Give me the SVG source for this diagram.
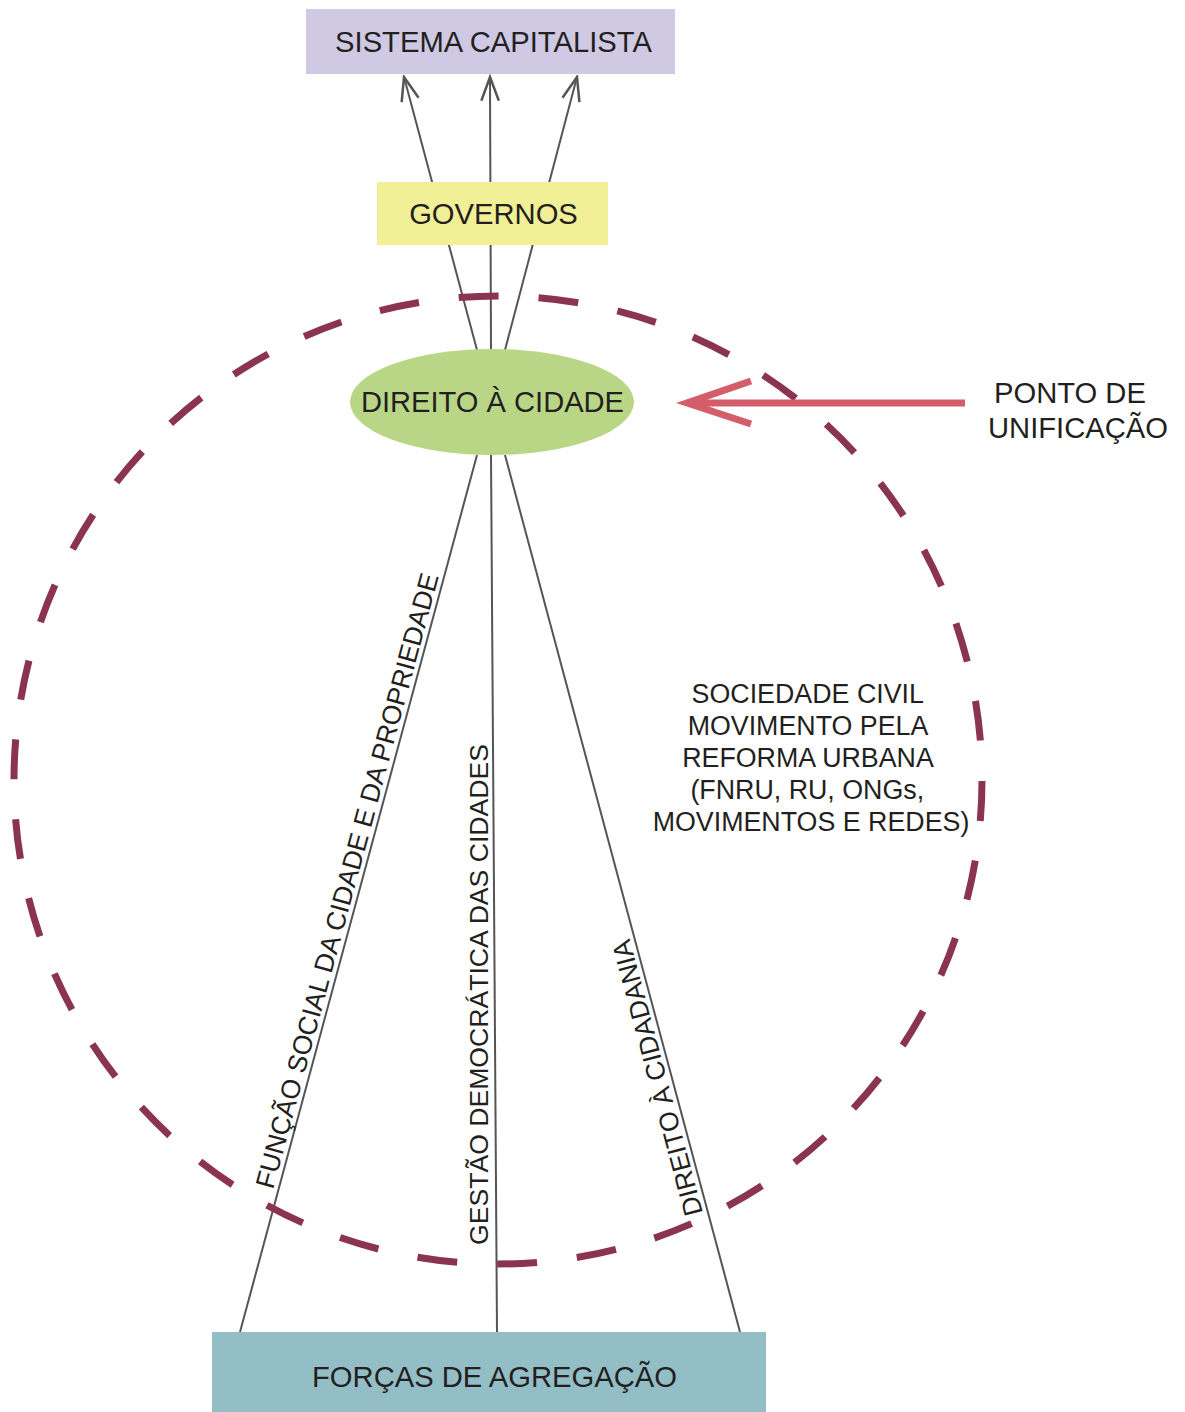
<svg xmlns="http://www.w3.org/2000/svg" width="1185" height="1412" viewBox="0 0 1185 1412">
<style>
.t{font-family:"Liberation Sans",Arial,sans-serif;fill:#231f20;}
.c{stroke:#555;stroke-width:2;fill:none;}
</style>
<defs>
<marker id="ah" markerUnits="userSpaceOnUse" markerWidth="30" markerHeight="30" viewBox="-22 -11 24 22" refX="0" refY="0" orient="auto">
<path d="M-19,-7 L0,0 L-19,7" fill="none" stroke="#555" stroke-width="2"/>
</marker>
</defs>
<rect width="1185" height="1412" fill="#fff"/>
<g id="connectors">
<line class="c" x1="477" y1="350" x2="404" y2="77" marker-end="url(#ah)"/>
<line class="c" x1="491" y1="350" x2="490" y2="77" marker-end="url(#ah)"/>
<line class="c" x1="505" y1="350" x2="577" y2="77" marker-end="url(#ah)"/>
<line class="c" x1="477" y1="455" x2="240" y2="1332"/>
<line class="c" x1="491" y1="455" x2="497" y2="1332"/>
<line class="c" x1="505" y1="455" x2="740" y2="1332"/>
<text class="t" font-size="26.6" transform="translate(273,1190) rotate(-74.87)">FUNÇÃO SOCIAL DA CIDADE E DA PROPRIEDADE</text>
<text class="t" font-size="26.6" transform="translate(488,1245) rotate(-90)">GESTÃO DEMOCRÁTICA DAS CIDADES</text>
<text class="t" font-size="26.6" transform="translate(703,1213) rotate(-105)">DIREITO À CIDADANIA</text>
</g>
<g id="circle">
<circle cx="498" cy="780" r="484" fill="none" stroke="#8b3452" stroke-width="7" stroke-dasharray="40 40" stroke-dashoffset="-1"/>
</g>
<g id="sistema">
<rect x="306" y="9" width="369" height="65" fill="#cfc9e3"/>
<text class="t" font-size="29.2" x="493.5" y="52" text-anchor="middle">SISTEMA CAPITALISTA</text>
</g>
<g id="governos">
<rect x="377" y="182" width="231" height="63" fill="#f2f097"/>
<text class="t" font-size="29.2" x="493.5" y="224" text-anchor="middle">GOVERNOS</text>
</g>
<g id="direito">
<ellipse cx="492" cy="402" rx="142" ry="53" fill="#b9d686"/>
<text class="t" font-size="29.1" x="492.5" y="412" text-anchor="middle">DIREITO À CIDADE</text>
</g>
<g id="forcas">
<rect x="212" y="1332" width="554" height="80" fill="#94bec6"/>
<text class="t" font-size="29.2" x="494.5" y="1387" text-anchor="middle">FORÇAS DE AGREGAÇÃO</text>
</g>
<g id="sociedade">
<text class="t" font-size="26.8" text-anchor="middle">
<tspan x="811" y="703">SOCIEDADE CIVIL</tspan>
<tspan x="811" y="735">MOVIMENTO PELA</tspan>
<tspan x="811" y="767">REFORMA URBANA</tspan>
<tspan x="811" y="799">(FNRU, RU, ONGs,</tspan>
<tspan x="811" y="831">MOVIMENTOS E REDES)</tspan>
</text>
</g>
<g id="ponto">
<line x1="965" y1="403" x2="688" y2="403" stroke="#d35e6a" stroke-width="7"/>
<path d="M751,381 L687,403 L751,424" fill="none" stroke="#d35e6a" stroke-width="7"/>
<text class="t" font-size="29.2" text-anchor="middle">
<tspan x="1074" y="403">PONTO DE</tspan>
<tspan x="1078" y="438">UNIFICAÇÃO</tspan>
</text>
</g>
</svg>
